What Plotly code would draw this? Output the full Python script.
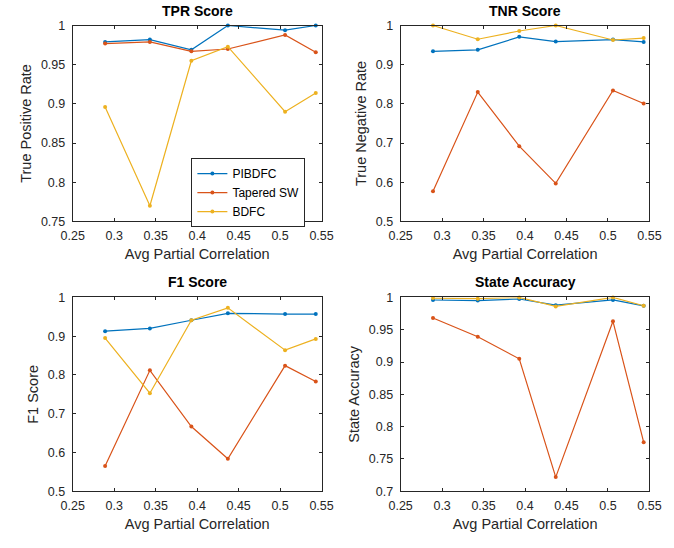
import plotly.graph_objects as go

x_vals = [0.289, 0.343, 0.393, 0.437, 0.506, 0.543]
series_names = ["PIBDFC", "Tapered SW", "BDFC"]
colors = ["#0072BD", "#D95319", "#EDB120"]

tpr = {
    "PIBDFC": [0.979, 0.982, 0.969, 1.0, 0.994, 1.0],
    "Tapered SW": [0.977, 0.979, 0.967, 0.970, 0.988, 0.966],
    "BDFC": [0.896, 0.770, 0.955, 0.973, 0.890, 0.914],
}
tnr = {
    "PIBDFC": [0.934, 0.938, 0.971, 0.959, 0.964, 0.958],
    "Tapered SW": [0.577, 0.830, 0.692, 0.597, 0.834, 0.801],
    "BDFC": [1.0, 0.965, 0.986, 1.0, 0.963, 0.968],
}
f1 = {
    "PIBDFC": [0.913, 0.920, 0.941, 0.959, 0.957, 0.957],
    "Tapered SW": [0.565, 0.812, 0.667, 0.584, 0.824, 0.783],
    "BDFC": [0.895, 0.753, 0.941, 0.973, 0.864, 0.893],
}
state_acc = {
    "PIBDFC": [0.996, 0.995, 0.9975, 0.988, 0.996, 0.987],
    "Tapered SW": [0.968, 0.939, 0.905, 0.722, 0.963, 0.776],
    "BDFC": [0.999, 0.998, 1.0, 0.986, 1.0, 0.987],
}

panels = [
    ("TPR Score", "True Positive Rate", tpr, [0.75, 1.0], 0.05),
    ("TNR Score", "True Negative Rate", tnr, [0.5, 1.0], 0.1),
    ("F1 Score", "F1 Score", f1, [0.5, 1.0], 0.1),
    ("State Accuracy", "State Accuracy", state_acc, [0.7, 1.0], 0.05),
]
x_ticks = [0.25, 0.3, 0.35, 0.4, 0.45, 0.5, 0.55]

W, H = 674, 548
# pixel boxes of axes (left, right, top, bottom)
boxes = [(63, 321, 19, 220), (403, 661, 19, 220), (63, 321, 298, 497), (403, 661, 298, 497)]

FONT = "Liberation Sans, Arial, Helvetica, sans-serif"
TXT = "#262626"

fig = go.Figure()
layout = dict(
    width=W, height=H, margin=dict(l=0, r=0, t=0, b=0),
    paper_bgcolor="white", plot_bgcolor="white",
    font=dict(family=FONT, color=TXT, size=12.5),
    annotations=[],
)

for i, (title, ylab, data, yr, dy) in enumerate(panels):
    n = "" if i == 0 else str(i + 1)
    l, r, t, b = boxes[i]
    xd = [l / W, r / W]
    yd = [(H - b) / H, (H - t) / H]
    for j, name in enumerate(series_names):
        fig.add_trace(go.Scatter(
            x=x_vals, y=data[name], mode="lines+markers", name=name,
            line=dict(color=colors[j], width=1.2),
            marker=dict(color=colors[j], size=4),
            xaxis="x" + n, yaxis="y" + n,
            showlegend=(i == 0), cliponaxis=False,
        ))
    axcommon = dict(
        showgrid=False, zeroline=False, showline=True, linecolor=TXT, linewidth=1,
        mirror="ticks", ticks="inside", ticklen=3, tickcolor=TXT,
        tickfont=dict(family=FONT, size=12.5, color=TXT),
    )
    layout["xaxis" + n] = dict(
        axcommon, domain=xd, range=[0.25, 0.55], tickvals=x_ticks,
        ticktext=["0.25", "0.3", "0.35", "0.4", "0.45", "0.5", "0.55"],
        anchor="y" + n, ticklabelstandoff=3,
        title=dict(text="Avg Partial Correlation", font=dict(size=14.5, color=TXT), standoff=6),
    )
    layout["yaxis" + n] = dict(
        axcommon, domain=yd, range=yr, dtick=dy, tick0=yr[0], anchor="x" + n,
        ticklabelstandoff=4,
        title=dict(text=ylab, font=dict(size=14.5, color=TXT), standoff=5),
    )
    layout["annotations"].append(dict(
        text="<b>" + title + "</b>", x=(xd[0] + xd[1]) / 2, y=yd[1], xref="paper", yref="paper",
        xanchor="center", yanchor="bottom", yshift=5, showarrow=False,
        font=dict(size=14, color="black", family=FONT),
    ))

layout["legend"] = dict(
    x=186 / W, y=(H - 155) / H, xanchor="left", yanchor="top",
    bgcolor="white", bordercolor=TXT, borderwidth=1,
    font=dict(size=12, color="black", family=FONT),
    tracegroupgap=0, itemwidth=30,
)

fig.update_layout(**layout)
fig.write_html("out.html")
